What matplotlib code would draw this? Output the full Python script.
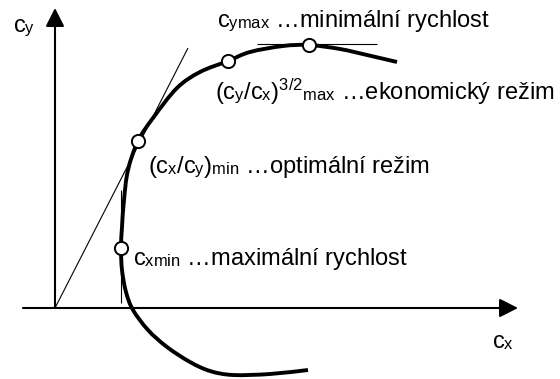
import matplotlib
matplotlib.use("Agg")
import matplotlib.pyplot as plt
from matplotlib.path import Path
from matplotlib.patches import PathPatch

plt.rcParams['font.family'] = ['Liberation Sans', 'DejaVu Sans']
plt.rcParams['mathtext.fontset'] = 'custom'
plt.rcParams['mathtext.rm'] = 'Liberation Sans'
plt.rcParams['mathtext.it'] = 'Liberation Sans'
plt.rcParams['mathtext.bf'] = 'Liberation Sans:bold'
plt.rcParams['mathtext.sf'] = 'Liberation Sans'

# Keep subscripts close to the baseline, as in typical word-processor indices
try:
    import matplotlib._mathtext as _mt
    _mt.FontConstantsBase.sub1 = 0.08
    _mt.FontConstantsBase.subdrop = 0.0
except Exception:
    pass

# Drag polar c_y(c_x), drawn from the top right, through c_ymax, down to the bottom
polar_cx = [342, 312, 285, 254, 228, 195, 173, 145, 122, 98, 83, 73, 69, 67,
            66, 67, 71, 78, 93, 112, 135, 155, 178, 215, 253]
polar_cy = [246, 253, 259, 263, 262, 256, 247, 236, 220, 190, 167, 138, 108, 81,
            60, 38, 16, -2, -22, -39, -54, -63, -67, -66, -62]

# Characteristic flight regimes on the polar
point_cx = [254, 173, 83, 66]
point_cy = [263, 247, 167, 60]
point_labels = [
    r'$c_{ymax}$ …minimální rychlost',
    r'$(c_y/c_x)^{3/2}{}_{max}$ …ekonomický režim',
    r'$(c_x/c_y)_{min}$ …optimální režim',
    r'$c_{xmin}$ …maximální rychlost',
]
label_pos = [(162, 281), (160, 208), (93, 135), (78, 43)]

# Tangents: from the origin, horizontal at c_ymax, vertical at c_xmin
tangent_origin = ([0, 133], [0, 260])
tangent_top = ([202, 322], [264, 264])
tangent_side = ([66, 66], [5, 118])


def smooth_path(xs, ys):
    """Cubic Bezier path passing through every point (Catmull-Rom tangents)."""
    pts = list(zip(xs, ys))
    verts = [pts[0]]
    codes = [Path.MOVETO]
    n = len(pts)
    for i in range(n - 1):
        p0 = pts[i - 1] if i > 0 else pts[i]
        p1 = pts[i]
        p2 = pts[i + 1]
        p3 = pts[i + 2] if i + 2 < n else pts[i + 1]
        c1 = (p1[0] + (p2[0] - p0[0]) / 6, p1[1] + (p2[1] - p0[1]) / 6)
        c2 = (p2[0] - (p3[0] - p1[0]) / 6, p2[1] - (p3[1] - p1[1]) / 6)
        verts += [c1, c2, p2]
        codes += [Path.CURVE4] * 3
    return Path(verts, codes)


fig = plt.figure(figsize=(5.6, 3.79), dpi=100)
ax = fig.add_axes([0, 0, 1, 1])
ax.set_xlim(-55, 505)
ax.set_ylim(-71, 308)
ax.set_axis_off()

# Axes with arrow heads
arrow_style = '-|>,head_length=0.75,head_width=0.38'
ax.annotate('', xy=(0, 300), xytext=(0, 0),
            arrowprops=dict(arrowstyle=arrow_style, lw=1.5, color='black',
                            mutation_scale=15, shrinkA=0, shrinkB=0))
ax.annotate('', xy=(463, 0), xytext=(-32, 0),
            arrowprops=dict(arrowstyle=arrow_style, lw=1.5, color='black',
                            mutation_scale=15, shrinkA=0, shrinkB=0))

for xs, ys in (tangent_origin, tangent_top, tangent_side):
    ax.plot(xs, ys, color='black', lw=0.8, solid_capstyle='butt')

ax.add_patch(PathPatch(smooth_path(polar_cx, polar_cy), facecolor='none',
                       edgecolor='black', lw=2.8, capstyle='butt',
                       joinstyle='round', zorder=3))
ax.plot(point_cx, point_cy, 'o', ms=9.5, mfc='white', mec='black', mew=1.4, zorder=4)

fs = 17
for (x, y), lab in zip(label_pos, point_labels):
    ax.text(x, y, lab, fontsize=fs, va='baseline', ha='left')

ax.text(-42, 276, r'$c_y$', fontsize=fs, va='baseline', ha='left')
ax.text(437, -41, r'$c_x$', fontsize=fs, va='baseline', ha='left')

fig.savefig('out.png', dpi=100)
